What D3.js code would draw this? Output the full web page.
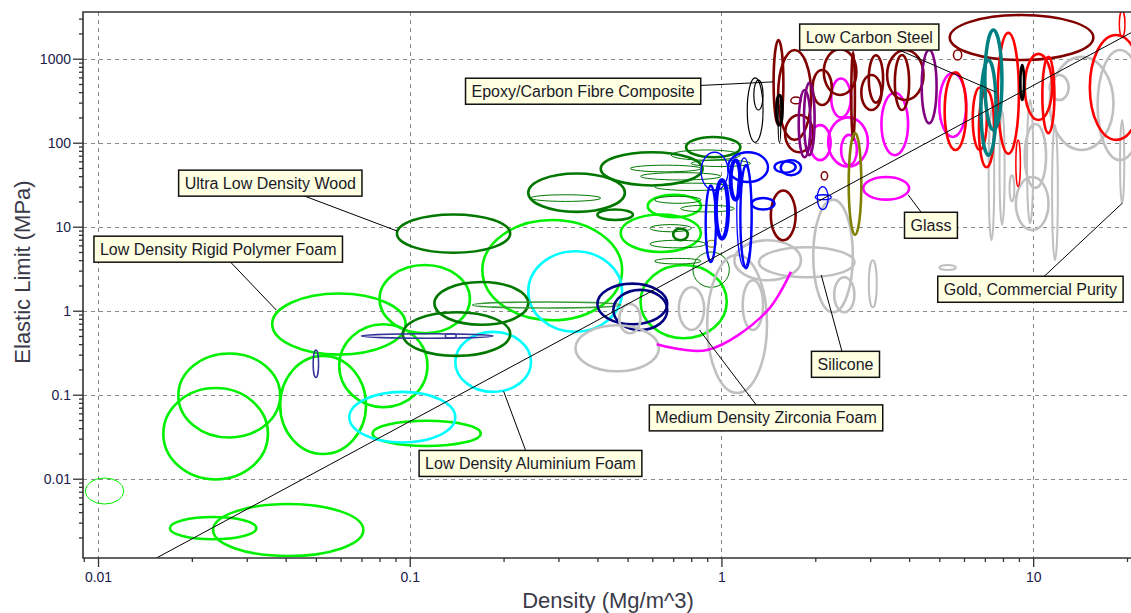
<!DOCTYPE html>
<html>
<head>
<meta charset="utf-8">
<script src="https://cdn.jsdelivr.net/npm/d3@7"></script>
<style>
  body { margin: 0; background: #fff; }
  svg { display: block; }
</style>
</head>
<body>
<svg id="chart" width="1131" height="613"></svg>
<script>
// ---- Axis ranges and ticks ----
const densityDomain = [0.00895, 20.6];     // Mg/m^3
const limitDomain = [0.001138, 3597];      // MPa
const xTickValues = [0.01, 0.1, 1, 10];
const yTickValues = [0.01, 0.1, 1, 10, 100, 1000];
const xTickLabels = ["0.01", "0.1", "1", "10"];
const yTickLabels = ["0.01", "0.1", "1", "10", "100", "1000"];

// ---- Material property envelopes: [densityMin, densityMax, limitMin, limitMax] ----
const polymerFoams = [
  [0.0162, 0.0351, 0.0098, 0.12],
  [0.0181, 0.0384, 0.031, 0.31],
  [0.0384, 0.0724, 0.0197, 0.29],
  [0.0362, 0.097, 0.30, 1.6],
  [0.0594, 0.114, 0.071, 0.69],
  [0.080, 0.156, 0.54, 3.5],
  [0.076, 0.169, 0.0245, 0.049],
  [0.0170, 0.0322, 0.0019, 0.0035],
  [0.0234, 0.071, 0.0012, 0.005],
  [0.171, 0.48, 0.77, 12],
  [0.475, 0.859, 5.0, 14],
  [0.58, 0.86, 13, 24],
  [0.55, 1.04, 0.47, 3.5]
];
const polymerFoamsMinor = [
  [0.0091, 0.0121, 0.005, 0.0102]
];
const woods = [
  [0.091, 0.21, 4.9, 14],
  [0.24, 0.49, 15, 43],
  [0.41, 0.87, 31, 77],
  [0.77, 1.15, 67, 117],
  [0.12, 0.24, 0.68, 2.2],
  [0.095, 0.21, 0.29, 0.96],
  [0.40, 0.52, 12, 16],
  [0.70, 0.78, 6.9, 9.5]
];
const woodsMinor = [
  [0.55, 0.996, 36, 44],
  [0.61, 1.07, 27, 33],
  [0.51, 0.86, 45, 54],
  [0.69, 1.15, 62, 82],
  [0.80, 1.24, 52, 62],
  [0.61, 0.86, 19, 23],
  [0.74, 1.10, 15, 18],
  [0.59, 0.80, 8.7, 10.6],
  [0.59, 0.89, 5.6, 6.9],
  [0.61, 0.86, 3.6, 4.2],
  [0.244, 0.41, 20, 24],
  [0.81, 1.06, 1.9, 5.0]
];
const naturalFibres = [
  [0.159, 0.475, 1.08, 1.27]
];
const metalFoams = [
  [0.064, 0.14, 0.027, 0.108],
  [0.14, 0.245, 0.108, 0.56],
  [0.24, 0.48, 0.56, 5.1]
];
const ceramicFoams = [
  [0.40, 0.67, 0.69, 2.1],
  [0.45, 0.67, 0.59, 1.77]
];
const ceramicFoamsMinor = [
  [0.07, 0.185, 0.47, 0.53],
  [0.13, 0.141, 0.47, 0.53],
  [0.049, 0.051, 0.16, 0.34]
];
const ceramics = [
  [0.34, 0.63, 0.19, 0.67],
  [0.90, 1.4, 0.105, 4.6],
  [1.17, 1.36, 0.59, 2.3],
  [0.73, 0.88, 0.59, 1.9],
  [1.32, 2.67, 2.5, 5.7],
  [1.97, 2.64, 0.96, 21],
  [2.3, 2.67, 0.96, 2.5],
  [0.47, 0.55, 0.54, 1.2],
  [1.1, 1.8, 2.3, 6.9],
  [11.3, 18.1, 82, 1050],
  [16.1, 22.4, 62, 1270],
  [8.8, 11.2, 9.1, 39],
  [9.4, 11.0, 29, 167],
  [11.3, 13, 322, 639]
];
const ceramicsMinor = [
  [2.97, 3.15, 1.1, 4.0],
  [7.2, 7.5, 6.9, 245],
  [7.8, 8.1, 10.5, 245],
  [8.4, 8.7, 20, 41],
  [11.5, 12.0, 4.0, 162],
  [9.56, 10.0, 11, 322],
  [5.0, 5.65, 3.05, 3.5],
  [19.0, 19.6, 19, 186]
];
const ferrousAlloys = [
  [5.2, 6.1, 82, 690],
  [7.7, 9.0, 74, 2030],
  [9.4, 11.5, 186, 1140],
  [10.7, 11.7, 130, 1050],
  [6.4, 7.1, 82, 455],
  [6.7, 7.5, 51, 424],
  [15.2, 22.4, 108, 1914]
];
const ferrousAlloysMinor = [
  [18.9, 19.7, 1800, 3700],
  [8.8, 9.1, 30, 108]
];
const stainlessSteels = [
  [7.0, 7.94, 142, 2190],
  [6.8, 7.6, 71, 964]
];
const composites = [
  [5.4, 15.6, 964, 3310],
  [1.47, 1.58, 162, 1667],
  [1.52, 1.94, 108, 1268],
  [1.96, 2.26, 281, 733],
  [2.97, 3.3, 300, 1100],
  [3.4, 4.45, 322, 1268],
  [3.6, 4.0, 245, 1106],
  [1.44, 1.73, 6.9, 27],
  [1.6, 1.97, 77, 214],
  [2.13, 2.71, 370, 1300],
  [2.81, 3.26, 245, 639],
  [2.61, 2.68, 108, 1200]
];
const compositesMinor = [
  [5.55, 5.9, 964, 1268],
  [2.09, 2.19, 36, 45],
  [1.67, 1.8, 290, 350]
];
const glasses = [
  [5.0, 6.1, 117, 675],
  [2.85, 4.0, 21, 39],
  [2.25, 2.6, 200, 580],
  [3.26, 3.97, 71, 393],
  [2.2, 2.95, 52, 200],
  [1.92, 2.24, 62, 162],
  [2.42, 2.72, 54, 124]
];
// visible lower edge of the elastomer envelope: [density, limit]
const elastomerEdge = [
  [0.62, 0.40], [0.90, 0.34], [1.39, 0.96], [1.67, 2.9]
];
const nonFerrous = [
  [1.77, 1.93, 67, 424],
  [4.39, 4.9, 170, 1268],
  [1.84, 1.99, 71, 518]
];
const technicalCeramics = [
  [2.56, 2.81, 8.0, 130]
];
const technicalCeramicsMinor = [
  [0.90, 0.96, 5.7, 6.9]
];
const polymers = [
  [0.89, 0.96, 3.8, 31],
  [1.15, 1.25, 3.2, 54],
  [1.05, 1.41, 34, 77],
  [1.48, 1.73, 44, 60],
  [1.25, 1.48, 16, 22],
  [1.55, 1.8, 41, 62]
];
const polymersHeavy = [
  [0.96, 1.05, 7.2, 36],
  [1.07, 1.15, 21, 62]
];
const polymersMinor = [
  [1.12, 1.25, 3.3, 66],
  [2.03, 2.2, 16, 30],
  [2.0, 2.25, 21, 24],
  [0.86, 1.05, 27, 77]
];
const fibreComposites = [
  [1.27, 1.36, 245, 557],
  [1.21, 1.36, 101, 590],
  [1.52, 1.55, 100, 370]
];
const fibreCompositesHeavy = [
  [1.5, 1.57, 162, 370],
  [9.1, 9.35, 322, 841]
];

// performance-index guide line: limit = coeff * density^exponent
const guideExponent = 2;
const guideCoeff = 4.8;

// ---- Annotations ----
const labelTexts = [
  "Ultra Low Density Wood", "Low Density Rigid Polymer Foam", "Epoxy/Carbon Fibre Composite",
  "Low Carbon Steel", "Glass", "Gold, Commercial Purity", "Silicone",
  "Medium Density Zirconia Foam", "Low Density Aluminium Foam"
];
const labelCentres = [
  [0.0357, 33], [0.0243, 5.4], [0.36, 410], [2.98, 1810], [4.7, 10.4],
  [9.8, 1.8], [2.5, 0.23], [1.39, 0.053], [0.244, 0.0152]
];
const labelTargets = [
  [0.091, 8.9], [0.0373, 1.02], [1.47, 530], [7.6, 400], [3.97, 24],
  [19.3, 19], [2.09, 2.66], [0.85, 0.59], [0.2, 0.11]
];

// ---- Drawing ----
const svg = d3.select("#chart");
const plot = { left: 83, right: 1131, top: 12, bottom: 558 };
const x = d3.scaleLog().domain(densityDomain).range([plot.left, plot.right]);
const y = d3.scaleLog().domain(limitDomain).range([plot.bottom, plot.top]);
const FONT = "'Liberation Sans', Arial, sans-serif";

svg.append("defs").append("clipPath").attr("id", "plotClip")
  .append("rect")
  .attr("x", plot.left).attr("y", plot.top)
  .attr("width", plot.right - plot.left).attr("height", plot.bottom - plot.top);

// grid
const grid = svg.append("g").attr("stroke", "#8a8a8a").attr("stroke-width", 1)
  .attr("stroke-dasharray", "4,4");
grid.selectAll(null).data(xTickValues).join("line")
  .attr("x1", d => Math.round(x(d)) + 0.5).attr("x2", d => Math.round(x(d)) + 0.5)
  .attr("y1", plot.top).attr("y2", plot.bottom);
grid.selectAll(null).data(yTickValues).join("line")
  .attr("y1", d => Math.round(y(d)) + 0.5).attr("y2", d => Math.round(y(d)) + 0.5)
  .attr("x1", plot.left).attr("x2", plot.right);

const marks = svg.append("g").attr("clip-path", "url(#plotClip)");

function drawFamily(data, color, width) {
  marks.append("g").selectAll("ellipse").data(data).join("ellipse")
    .attr("cx", d => (x(d[0]) + x(d[1])) / 2)
    .attr("cy", d => (y(d[2]) + y(d[3])) / 2)
    .attr("rx", d => Math.abs(x(d[1]) - x(d[0])) / 2)
    .attr("ry", d => Math.abs(y(d[3]) - y(d[2])) / 2)
    .attr("fill", "none")
    .attr("stroke", color)
    .attr("stroke-width", width);
}

const families = [
  { data: polymerFoams, color: "#00f000", width: 2.6 },
  { data: polymerFoamsMinor, color: "#00f000", width: 1 },
  { data: metalFoams, color: "#00ffff", width: 2.6 },
  { data: woods, color: "#007800", width: 2.6 },
  { data: woodsMinor, color: "#007800", width: 1 },
  { data: naturalFibres, color: "#3a9a3a", width: 1.5 },
  { data: ceramicFoams, color: "#000080", width: 2.6 },
  { data: ceramicFoamsMinor, color: "#333399", width: 1.5 },
  { data: ceramics, color: "#c0c0c0", width: 2.6 },
  { data: ceramicsMinor, color: "#c0c0c0", width: 2 },
  { data: glasses, color: "#ff00ff", width: 2.6 },
  { data: composites, color: "#800000", width: 2.6 },
  { data: compositesMinor, color: "#800000", width: 1.5 },
  { data: nonFerrous, color: "#800080", width: 2.6 },
  { data: technicalCeramics, color: "#808000", width: 2.6 },
  { data: technicalCeramicsMinor, color: "#808000", width: 1.2 },
  { data: polymers, color: "#0000ff", width: 2.4 },
  { data: polymersHeavy, color: "#0000ff", width: 4 },
  { data: polymersMinor, color: "#0000ff", width: 1.3 },
  { data: ferrousAlloys, color: "#ff0000", width: 2.6 },
  { data: ferrousAlloysMinor, color: "#ff0000", width: 1.5 },
  { data: stainlessSteels, color: "#008080", width: 3.5 },
  { data: fibreComposites, color: "#000000", width: 1.2 },
  { data: fibreCompositesHeavy, color: "#000000", width: 2.6 }
];
families.forEach(f => drawFamily(f.data, f.color, f.width));

marks.append("path")
  .datum(elastomerEdge)
  .attr("d", d3.line().x(d => x(d[0])).y(d => y(d[1])).curve(d3.curveCatmullRom))
  .attr("fill", "none").attr("stroke", "#ff00ff").attr("stroke-width", 2.6);

// guide line
const guideStart = Math.sqrt(limitDomain[0] / guideCoeff);
const guidePts = [guideStart, densityDomain[1]].map(r => [r, guideCoeff * Math.pow(r, guideExponent)]);
marks.append("path")
  .datum(guidePts)
  .attr("d", d3.line().x(d => x(d[0])).y(d => y(d[1])))
  .attr("fill", "none").attr("stroke", "#000").attr("stroke-width", 1);

// frame
const frame = svg.append("g").attr("stroke", "#333").attr("stroke-width", 1.6).attr("fill", "none");
frame.append("path").attr("d",
  `M${plot.right},${plot.top}H${plot.left}V${plot.bottom}H${plot.right}`);

// minor tick values
function minorTicks(domain) {
  const out = [];
  for (let e = -4; e <= 4; e++) {
    for (let k = 2; k <= 9; k++) {
      const v = k * Math.pow(10, e);
      if (v >= domain[0] && v <= domain[1]) out.push(v);
    }
  }
  return out;
}

// y axis
const yMajor = d3.axisLeft(y).tickValues(yTickValues)
  .tickFormat((d, i) => yTickLabels[i]).tickSize(10).tickSizeOuter(0).tickPadding(2);
const yMinor = d3.axisLeft(y).tickValues(minorTicks(limitDomain))
  .tickFormat("").tickSize(4).tickSizeOuter(0);
const yG = svg.append("g").attr("transform", `translate(${plot.left},0)`);
yG.append("g").call(yMinor);
yG.append("g").call(yMajor);

// x axis
const xMajor = d3.axisBottom(x).tickValues(xTickValues)
  .tickFormat((d, i) => xTickLabels[i]).tickSize(9).tickSizeOuter(0).tickPadding(5);
const xMinor = d3.axisBottom(x).tickValues(minorTicks(densityDomain))
  .tickFormat("").tickSize(4).tickSizeOuter(0);
const xG = svg.append("g").attr("transform", `translate(0,${plot.bottom})`);
xG.append("g").call(xMinor);
xG.append("g").call(xMajor);

svg.selectAll(".domain").remove();
svg.selectAll(".tick line").attr("stroke", "#333").attr("stroke-width", 1.3);
svg.selectAll(".tick text").attr("font-family", FONT).attr("font-size", 14).attr("fill", "#20204a");

// axis titles
svg.append("text")
  .attr("x", 608).attr("y", 608)
  .attr("text-anchor", "middle")
  .attr("font-family", FONT).attr("font-size", 22).attr("fill", "#3a3a48")
  .text("Density (Mg/m^3)");
svg.append("text")
  .attr("transform", "translate(30,272) rotate(-90)")
  .attr("text-anchor", "middle")
  .attr("font-family", FONT).attr("font-size", 22).attr("fill", "#3a3a48")
  .text("Elastic Limit (MPa)");

// callout labels
const callouts = svg.append("g");
labelTexts.forEach((t, i) => {
  const cx = x(labelCentres[i][0]), cy = y(labelCentres[i][1]);
  const tx = x(labelTargets[i][0]), ty = y(labelTargets[i][1]);
  callouts.append("line")
    .attr("x1", cx).attr("y1", cy).attr("x2", tx).attr("y2", ty)
    .attr("stroke", "#000").attr("stroke-width", 1);
  const g = callouts.append("g");
  const rect = g.append("rect").attr("fill", "#ffffe1").attr("stroke", "#111").attr("stroke-width", 1.5);
  const text = g.append("text")
    .attr("x", cx).attr("y", cy + 5.5)
    .attr("text-anchor", "middle")
    .attr("font-family", FONT).attr("font-size", 16).attr("fill", "#1a1a2a")
    .text(t);
  const w = text.node().getComputedTextLength() + 12;
  rect.attr("x", cx - w / 2).attr("y", cy - 13).attr("width", w).attr("height", 26);
});
</script>
</body>
</html>
